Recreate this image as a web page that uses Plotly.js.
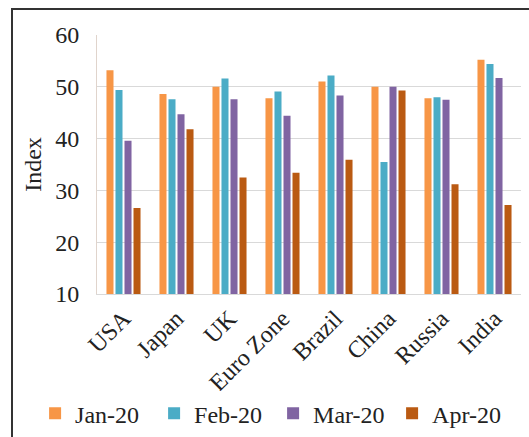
<!DOCTYPE html>
<html><head><meta charset="utf-8">
<script src="https://cdn.plot.ly/plotly-3.0.1.min.js"></script>
<style>
html,body{margin:0;padding:0;background:#fff;}
#wrap{position:relative;width:529px;height:437px;overflow:hidden;}
#frame{position:absolute;left:11px;top:8px;width:530px;height:440px;border-top:2px solid #333;border-left:2px solid #333;box-sizing:border-box;pointer-events:none;z-index:5;}
#chart{position:absolute;left:0;top:0;width:529px;height:437px;}
</style></head>
<body><div id="wrap"><div id="chart"></div><div id="frame"></div></div>
<script>
const categories = ["USA","Japan","UK","Euro Zone","Brazil","China","Russia","India"];
const jan20 = [53.2, 48.6, 50.0, 47.8, 51.0, 50.0, 47.8, 55.2];
const feb20 = [49.4, 47.6, 51.6, 49.1, 52.2, 35.5, 48.0, 54.4];
const mar20 = [39.6, 44.7, 47.6, 44.4, 48.3, 50.0, 47.5, 51.7];
const apr20 = [26.6, 41.8, 32.5, 33.4, 35.9, 49.3, 31.2, 27.2];
const seriesNames = ["Jan-20","Feb-20","Mar-20","Apr-20"];
const colors = ["#F79646","#4BACC6","#8064A2","#BA5A12"];
const vals = [jan20, feb20, mar20, apr20];
const traces = vals.map((v,i)=>({type:"bar",x:categories,y:v,name:seriesNames[i],marker:{color:colors[i]}}));
const fam = "'Liberation Serif', 'Times New Roman', serif";
Plotly.newPlot("chart", traces, {
  width:529, height:437,
  margin:{l:97,r:8,t:35,b:143, autoexpand:false},
  paper_bgcolor:"#fff", plot_bgcolor:"#fff",
  font:{family:fam, color:"#222", size:24},
  barmode:"group", bargap:0.32, bargroupgap:0.22,
  showlegend:true,
  legend:{orientation:"h", x:-0.146, xanchor:"left", y:-0.375, yanchor:"top", font:{family:fam, size:24}, itemwidth:30, traceorder:"normal", entrywidth:74},
  xaxis:{tickangle:-45, showline:true, linecolor:"#D9D9D9", ticks:"", tickfont:{family:fam, size:24}},
  yaxis:{range:[10,60], dtick:10, showgrid:true, gridcolor:"#D9D9D9", showline:true, linecolor:"#E0D4CC", ticks:"outside", ticklen:12, tickcolor:"rgba(0,0,0,0)", zeroline:false, tickfont:{family:fam, size:24},
         title:{text:"Index", font:{family:fam, size:24}, standoff:6}}
}, {displayModeBar:false, staticPlot:true});
</script></body></html>
